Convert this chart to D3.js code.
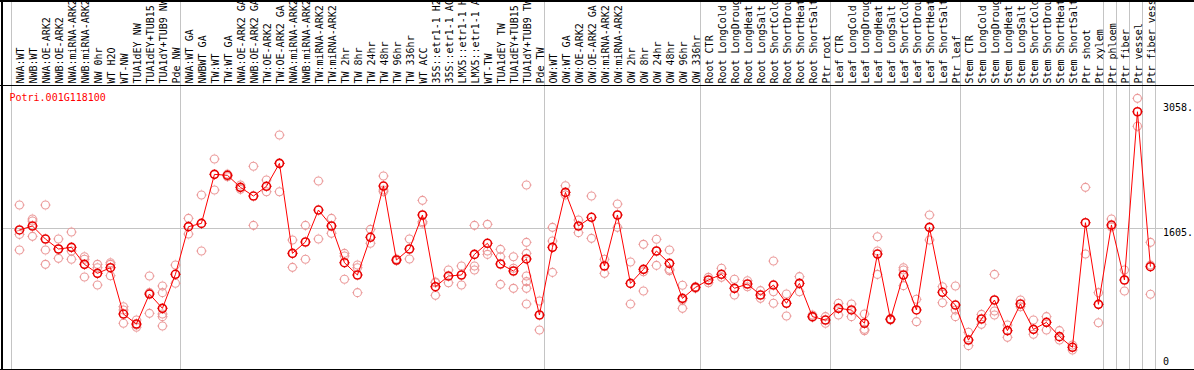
<!DOCTYPE html>
<html>
<head>
<meta charset="utf-8">
<script src="https://cdn.jsdelivr.net/npm/d3@7"></script>
<style>
  html, body { margin: 0; padding: 0; background: #fff; }
  svg { display: block; }
  text { font-family: "DejaVu Sans Mono", monospace; font-size: 10px; }
</style>
</head>
<body>
<div id="chart"></div>
<script>
const geneId = 'Potri.001G118100';

const samples = [
  'NWA:WT', 'NWB:WT', 'NWA:OE-ARK2', 'NWB:OE-ARK2', 'NWA:miRNA-ARK2', 'NWB:miRNA-ARK2',
  'NW 0hr', 'WT H2O', 'WT-NW', 'TUA1dEY NW', 'TUA1dEY+TUB15 NW', 'TUA1dY+TUB9 NW', 'Pde NW',
  'NWA:WT GA', 'NWBWT GA', 'TW:WT', 'TW:WT GA', 'NWA:OE-ARK2 GA', 'NWB:OE-ARK2 GA',
  'TW:OE-ARK2', 'TW:OE-ARK2 GA', 'NWA:miRNA-ARK2 GA', 'NWB:miRNA-ARK2 GA', 'TW:miRNA-ARK2',
  'TW:miRNA-ARK2 GA', 'TW 2hr', 'TW 8hr', 'TW 24hr', 'TW 48hr', 'TW 96hr', 'TW 336hr', 'WT ACC',
  '35S::etr1-1 H2O', '35S::etr1-1 ACC', 'LMX5::etr1-1 H2O', 'LMX5::etr1-1 ACC', 'WT-TW',
  'TUA1dEY TW', 'TUA1dEY+TUB15 TW', 'TUA1dY+TUB9 TW', 'Pde TW',
  'OW:WT', 'OW:WT GA', 'OW:OE-ARK2', 'OW:OE-ARK2 GA', 'OW:miRNA-ARK2', 'OW:miRNA-ARK2 GA',
  'OW 2hr', 'OW 8hr', 'OW 24hr', 'OW 48hr', 'OW 96hr', 'OW 336hr',
  'Root CTR', 'Root LongCold', 'Root LongDrought', 'Root LongHeat', 'Root LongSalt',
  'Root ShortCold', 'Root ShortDrought', 'Root ShortHeat', 'Root ShortSalt', 'Ptr root',
  'Leaf CTR', 'Leaf LongCold', 'Leaf LongDrought', 'Leaf LongHeat', 'Leaf LongSalt',
  'Leaf ShortCold', 'Leaf ShortDrought', 'Leaf ShortHeat', 'Leaf ShortSalt', 'Ptr leaf',
  'Stem CTR', 'Stem LongCold', 'Stem LongDrought', 'Stem LongHeat', 'Stem LongSalt',
  'Stem ShortCold', 'Stem ShortDrought', 'Stem ShortHeat', 'Stem ShortSalt', 'Ptr shoot', 'Ptr xylem',
  'Ptr phloem', 'Ptr fiber', 'Ptr vessel', 'Ptr fiber vessel'
];

// index of the first sample of every group (last entry closes the table)
const groupStarts = [0, 13, 41, 53, 63, 73, 84, 85, 86, 87, 88];

const means = [
  1586, 1632, 1481, 1366, 1385, 1189, 1085, 1150, 615, 500, 846, 681, 1074,
  1624, 1662, 2228, 2217, 2078, 1978, 2090, 2355, 1316, 1447, 1816, 1632, 1208,
  1066, 1501, 2093, 1239, 1366, 1759, 931, 1054, 1066, 1304, 1432, 1193, 1112, 1251, 604,
  1385, 2020, 1632, 1732, 1170, 1759, 969, 1131, 1343, 1200, 796, 923,
  1008, 1074, 912, 962, 835, 950, 739, 969, 585, 546,
  681, 662, 508, 1308, 554, 1066, 662, 1616, 866, 719,
  315, 558, 777, 423, 731, 438, 519, 354, 231, 1670, 727,
  1643, 1008, 2951, 1162
];

const replicates = [
  [1874, 1535, 1354], [1712, 1689, 1512], [1874, 1354, 1189], [1482, 1366, 1258],
  [1562, 1343, 1247], [1277, 1247, 1043], [1189, 1150, 950], [1208, 1189, 1058],
  [700, 662, 508], [546, 488, 462], [1054, 862, 623], [939, 862, 615, 585, 477], [1181, 970],
  [1720, 1539], [1990, 1343], [2405, 2047], [2231, 2201], [2105, 2055], [2321, 1639],
  [2163, 2028], [2682, 2355, 2028], [1470, 1154], [1639, 1247], [2151, 1482], [1720, 1547],
  [1316, 1285, 1016], [1181, 1150, 862], [1593, 1432], [2209, 2047, 2028], [1251, 1231],
  [1482, 1251], [1928, 1682, 1666], [977, 831, 985], [1124, 977], [1170, 950],
  [1639, 1170, 1124], [1651, 1343, 1304], [1362, 1277, 958], [1277, 1143, 912],
  [2105, 1443, 1316, 1054, 989, 912, 731], [766, 431],
  [1616, 1458, 1096], [2097, 1990], [1701, 1555], [1978, 1489], [1247, 1085], [1885, 1616],
  [1216, 731], [1420, 1104, 881], [1478, 1343, 1177], [1354, 1131, 1116], [947, 681, 777], [931, 912],
  [1039, 977], [1143, 1039], [1016, 835], [1000, 931], [885, 796], [1227, 873, 739],
  [846, 592], [1047, 873], [604, 577], [585, 508],
  [739, 604], [731, 585], [615, 438, 423], [1508, 1343, 1073], [562, 546], [1150, 1124, 943],
  [785, 527], [1759, 1470], [931, 746], [939, 662, 585],
  [404, 250], [611, 496], [1073, 650, 604], [488, 346], [777, 700], [546, 381], [585, 431],
  [423, 315], [258, 200], [2078, 1308], [862, 515],
  [1712, 1620], [1124, 881], [3106, 2783], [1443, 1180, 843]
];

const yTickValues = [0, 1605, 3058];
const yTickLabels = ['0', '1605.', '3058.'];

const width = 1194;
const height = 370;
const headerBottom = 85;

const svg = d3.select('#chart')
  .append('svg')
  .attr('width', width)
  .attr('height', height);

const x = d3.scaleLinear()
  .domain([0, samples.length])
  .range([11, 1155]);
const xPoint = (i) => x(i + 0.65);

const y = d3.scaleLinear()
  .domain([0, 3058])
  .range([367.3, 102.5]);

// group separators, full height
svg.append('g')
  .selectAll('line')
  .data(groupStarts)
  .enter()
  .append('line')
  .attr('x1', (d) => Math.round(x(d)) + 0.5)
  .attr('x2', (d) => Math.round(x(d)) + 0.5)
  .attr('y1', 0)
  .attr('y2', height)
  .attr('stroke', '#c4c4c4')
  .attr('stroke-width', 1);

// horizontal reference line at the middle tick
svg.append('line')
  .attr('x1', 2)
  .attr('x2', 1163)
  .attr('y1', Math.round(y(1605)) + 0.5)
  .attr('y2', Math.round(y(1605)) + 0.5)
  .attr('stroke', '#c4c4c4');

// sample labels, rotated (long ones run off the top, as in the original)
svg.append('g')
  .selectAll('text')
  .data(samples)
  .enter()
  .append('text')
  .attr('transform', (d, i) => 'translate(' + (xPoint(i) + 4.7) + ',' + 83.5 + ') rotate(-90)')
  .attr('fill', '#000')
  .text((d) => d);

// frame
svg.append('rect').attr('x', 0).attr('y', 0).attr('width', width).attr('height', 2).attr('fill', '#000');
svg.append('rect').attr('x', 0).attr('y', headerBottom).attr('width', width).attr('height', 1).attr('fill', '#000');
svg.append('rect').attr('x', 0).attr('y', 369).attr('width', width).attr('height', 1).attr('fill', '#000');
svg.append('rect').attr('x', 1).attr('y', 0).attr('width', 2).attr('height', height).attr('fill', '#000');

// gene id
svg.append('text')
  .attr('x', 9.5)
  .attr('y', 100.5)
  .attr('fill', '#ff0000')
  .text(geneId);

// y tick labels on the right
svg.append('g')
  .selectAll('text')
  .data(yTickValues)
  .enter()
  .append('text')
  .attr('x', 1163)
  .attr('y', (d, i) => Math.min(y(d) + 8, 365))
  .attr('fill', '#000')
  .text((d, i) => yTickLabels[i]);

// marker: circle with four tiny spokes
function drawMarker(sel, color, sw) {
  sel.append('circle')
    .attr('r', 4)
    .attr('fill', 'none')
    .attr('stroke', color)
    .attr('stroke-width', sw);
  sel.append('path')
    .attr('d', 'M0,-4.5V-5.3M0,4.5V5.3M-4.5,0H-5.3M4.5,0H5.3')
    .attr('stroke', color)
    .attr('stroke-width', 0.8);
}

// replicates
const repPoints = [];
replicates.forEach((reps, i) => {
  reps.forEach((v) => repPoints.push({i, v}));
});

svg.append('g')
  .selectAll('g')
  .data(repPoints)
  .enter()
  .append('g')
  .attr('transform', (d) => 'translate(' + xPoint(d.i) + ',' + y(d.v) + ')')
  .call(drawMarker, '#eb9a9a', 1.1);

// mean line
const line = d3.line()
  .x((d, i) => xPoint(i))
  .y((d) => y(d));

svg.append('path')
  .datum(means)
  .attr('d', line)
  .attr('fill', 'none')
  .attr('stroke', '#ff0000')
  .attr('stroke-width', 1);

svg.append('g')
  .selectAll('g')
  .data(means)
  .enter()
  .append('g')
  .attr('transform', (d, i) => 'translate(' + xPoint(i) + ',' + y(d) + ')')
  .call(drawMarker, '#e80000', 1.6);
</script>
</body>
</html>
